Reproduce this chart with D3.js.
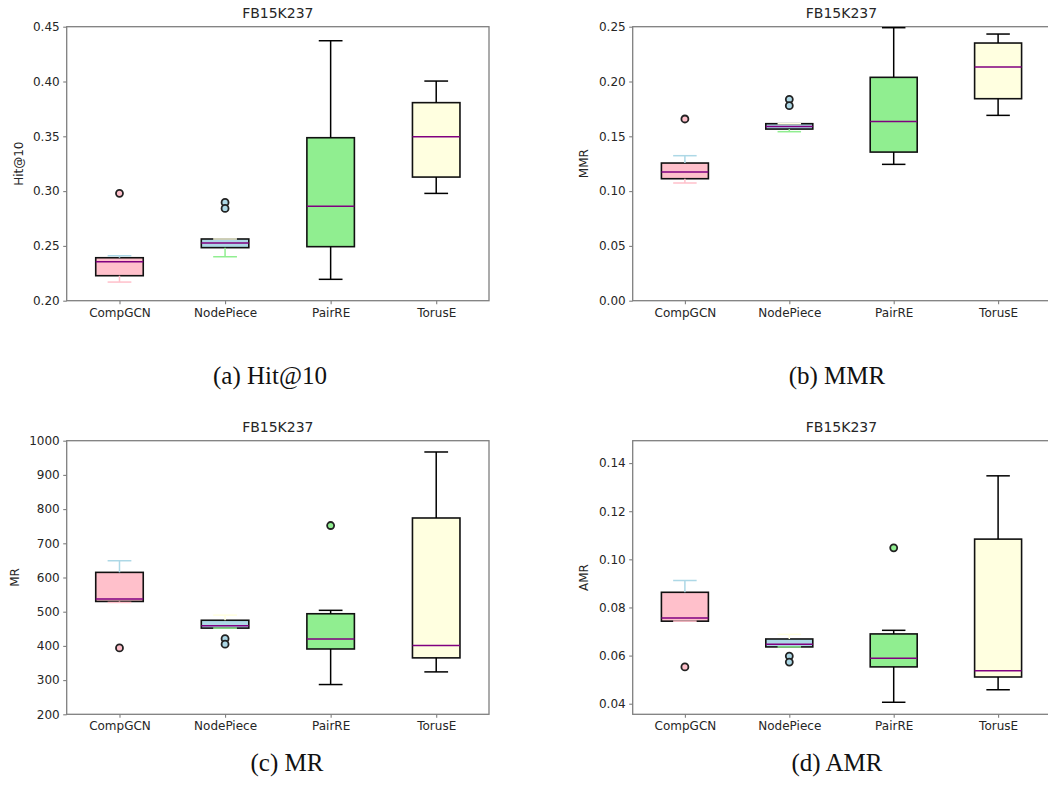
<!DOCTYPE html>
<html>
<head>
<meta charset="utf-8">
<script src="https://cdn.jsdelivr.net/npm/d3@7"></script>
<style>
  body { margin: 0; background: #fff; }
  svg { display: block; }
  .tick text { font-family: "DejaVu Sans", sans-serif; font-size: 12px; fill: #262626; }
  .title, .ylab { font-family: "DejaVu Sans", sans-serif; fill: #262626; }
  .caption { font-family: "Liberation Serif", "DejaVu Serif", serif; font-size: 25px; fill: #111; }
</style>
</head>
<body>
<svg width="1048" height="805"></svg>
<script>
var models = ["CompGCN", "NodePiece", "PairRE", "TorusE"];

// each row: [low cap, q1, median, q3, high cap]
var hit10 = [[0.217, 0.2228, 0.2356, 0.2392, 0.241],
             [0.2401, 0.2484, 0.2526, 0.2563, 0.2563],
             [0.2195, 0.2493, 0.2861, 0.3487, 0.4372],
             [0.2979, 0.3128, 0.3496, 0.3807, 0.4004]];
var hit10Out = [[0.298], [0.2897, 0.2842], [], []];
var hit10Ticks = [0.20, 0.25, 0.30, 0.35, 0.40, 0.45];

var mmr = [[0.1074, 0.1113, 0.1174, 0.1256, 0.1323],
           [0.1542, 0.1566, 0.159, 0.1615, 0.1615],
           [0.1244, 0.1356, 0.1636, 0.2038, 0.2491],
           [0.1691, 0.1843, 0.2132, 0.2351, 0.2433]];
var mmrOut = [[0.1658], [0.1837, 0.1779], [], []];
var mmrTicks = [0.00, 0.05, 0.10, 0.15, 0.20, 0.25];

var mr = [[527, 530, 537, 615, 649],
          [452, 452, 459, 475, 490],
          [287, 391, 420, 494, 504],
          [324, 365, 401, 774, 967]];
var mrOut = [[394], [421, 405], [752], []];
var mrTicks = [200, 300, 400, 500, 600, 700, 800, 900, 1000];

var amr = [[0.0743, 0.0743, 0.0756, 0.0863, 0.0912],
           [0.0636, 0.0636, 0.0647, 0.0669, 0.0688],
           [0.0406, 0.0553, 0.0589, 0.069, 0.0705],
           [0.0458, 0.0511, 0.0537, 0.1084, 0.1347]];
var amrOut = [[0.0553], [0.0598, 0.0573], [0.1048], []];
var amrTicks = [0.04, 0.06, 0.08, 0.10, 0.12, 0.14];

var fills = ["#ffc0cb", "#add8e6", "#90ee90", "#ffffe0"];
// whisker/cap colours as matplotlib zipped them: lower, upper, lower, upper ... then default black
var lineCols = ["#ffc0cb", "#add8e6", "#90ee90", "#ffffe0", "#000", "#000", "#000", "#000"];

var panels = [
  {stats: hit10, out: hit10Out, ticks: hit10Ticks, fmt: ".2f", dom: [0.20, 0.45], label: "Hit@10",
   x: 66.7, y: 26.7, w: 422.3, h: 274, labX: 18.5, cap: "(a) Hit@10", capX: 270, capY: 384},
  {stats: mmr, out: mmrOut, ticks: mmrTicks, fmt: ".2f", dom: [0, 0.25], label: "MMR",
   x: 632.7, y: 26.7, w: 417.6, h: 274, labX: 583.5, cap: "(b) MMR", capX: 837, capY: 384},
  {stats: mr, out: mrOut, ticks: mrTicks, fmt: "d", dom: [200, 1000], label: "MR",
   x: 66.7, y: 440.7, w: 422.3, h: 273.6, labX: 14.5, cap: "(c) MR", capX: 287, capY: 771},
  {stats: amr, out: amrOut, ticks: amrTicks, fmt: ".2f", dom: [0.0356, 0.1493], label: "AMR",
   x: 632.7, y: 440.7, w: 417.6, h: 273.6, labX: 583.5, cap: "(d) AMR", capX: 837, capY: 771}
];

var svg = d3.select("svg");

panels.forEach(function(p) {
  var g = svg.append("g").attr("transform", "translate(" + p.x + "," + p.y + ")");

  var x = d3.scalePoint().domain(models).range([0, p.w]).padding(0.5);
  var step = x.step();
  var bw = step * 0.45;
  var y = d3.scaleLinear().domain(p.dom).range([p.h, 0]);

  // frame
  g.append("rect").attr("width", p.w).attr("height", p.h)
    .attr("fill", "none").attr("stroke", "#7f7f7f").attr("stroke-width", 1.3);

  var yAxis = g.append("g").call(d3.axisLeft(y).tickValues(p.ticks)
      .tickFormat(d3.format(p.fmt)).tickSize(3.5).tickPadding(3.5));
  var xAxis = g.append("g").attr("transform", "translate(0," + p.h + ")")
      .call(d3.axisBottom(x).tickSize(3.5).tickPadding(4));
  [yAxis, xAxis].forEach(function(a) {
    a.select(".domain").remove();
    a.selectAll(".tick line").attr("stroke", "#7f7f7f").attr("stroke-width", 1.1);
  });
  yAxis.selectAll("text").attr("font-family", null).attr("font-size", null);
  xAxis.selectAll("text").attr("font-family", null).attr("font-size", null);

  // boxes
  g.selectAll(".box").data(p.stats).enter().append("rect")
    .attr("x", function(d, i) { return x(models[i]) - bw / 2; })
    .attr("y", function(d) { return y(d[3]); })
    .attr("width", bw)
    .attr("height", function(d) { return y(d[1]) - y(d[3]); })
    .attr("fill", function(d, i) { return fills[i]; })
    .attr("stroke", "#111").attr("stroke-width", 1.6);

  // whiskers and caps
  p.stats.forEach(function(d, i) {
    var cx = x(models[i]);
    [[d[1], d[0]], [d[3], d[4]]].forEach(function(w, k) {
      var col = lineCols[i * 2 + k];
      g.append("line").attr("x1", cx).attr("x2", cx)
        .attr("y1", y(w[0])).attr("y2", y(w[1]))
        .attr("stroke", col).attr("stroke-width", 1.5);
      g.append("line").attr("x1", cx - bw / 4).attr("x2", cx + bw / 4)
        .attr("y1", y(w[1])).attr("y2", y(w[1]))
        .attr("stroke", col).attr("stroke-width", 1.5);
    });
  });

  // medians
  g.selectAll(".med").data(p.stats).enter().append("line")
    .attr("x1", function(d, i) { return x(models[i]) - bw / 2; })
    .attr("x2", function(d, i) { return x(models[i]) + bw / 2; })
    .attr("y1", function(d) { return y(d[2]); })
    .attr("y2", function(d) { return y(d[2]); })
    .attr("stroke", "#800080").attr("stroke-width", 1.5);

  // fliers
  p.out.forEach(function(vals, i) {
    g.selectAll(null).data(vals).enter().append("circle")
      .attr("cx", x(models[i]))
      .attr("cy", function(v) { return y(v); })
      .attr("r", 3.5)
      .attr("fill", fills[i])
      .attr("stroke", "#222").attr("stroke-width", 1.8);
  });

  g.append("text").attr("class", "title")
    .attr("x", p.w / 2).attr("y", -9)
    .attr("text-anchor", "middle").attr("font-size", 14)
    .text("FB15K237");

  svg.append("text").attr("class", "ylab")
    .attr("transform", "translate(" + p.labX + "," + (p.y + p.h / 2) + ") rotate(-90)")
    .attr("text-anchor", "middle").attr("dy", "0.35em").attr("font-size", 12)
    .text(p.label);

  svg.append("text").attr("class", "caption")
    .attr("x", p.capX).attr("y", p.capY).attr("text-anchor", "middle")
    .text(p.cap);
});
</script>
</body>
</html>
